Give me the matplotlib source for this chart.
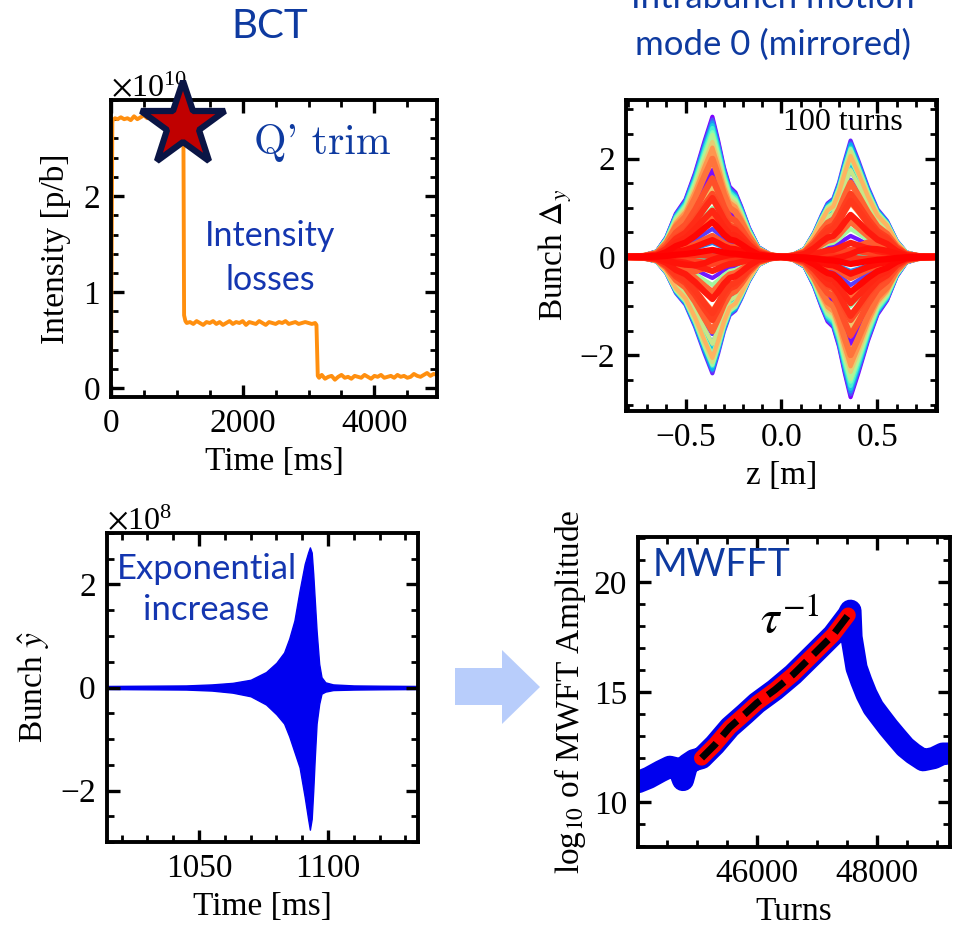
import numpy as np
import matplotlib
matplotlib.use('Agg')
import matplotlib.pyplot as plt
from matplotlib.patches import Polygon
from matplotlib.ticker import MultipleLocator, ScalarFormatter

plt.rcParams['font.family'] = ['Liberation Serif', 'DejaVu Serif']
plt.rcParams['mathtext.fontset'] = 'stix'
plt.rcParams['axes.linewidth'] = 2.8

TITLE_BLUE = '#0e3aa0'
TEXT_BLUE = '#1436b0'

# --- BCT intensity (units of 1e10 p/b) ---
bct_t = [0, 20,
         25, 60, 100, 150, 200, 250, 300, 350, 400, 450, 500, 550, 600, 650, 700,
         750, 800, 850, 900, 950, 1000, 1050, 1090,
         1100, 1110, 1130,
         1150, 1200, 1250, 1300, 1350, 1400, 1450, 1500, 1550, 1600, 1650, 1700,
         1750, 1800, 1850, 1900, 1950, 2000, 2050, 2100, 2150, 2200, 2250, 2300,
         2350, 2400, 2450, 2500, 2550, 2600, 2650, 2700, 2750, 2800, 2850, 2900,
         2950, 3000, 3050, 3100,
         3120, 3140,
         3160, 3200, 3250, 3300, 3350, 3400, 3450, 3500, 3550, 3600, 3650, 3700,
         3750, 3800, 3850, 3900, 3950, 4000, 4050, 4100, 4150, 4200, 4250, 4300,
         4350, 4400, 4450, 4500, 4550, 4600, 4650, 4700, 4750, 4800, 4850, 4900,
         4950, 5000]
bct_i = [0.10, 2.76,
         2.79, 2.81, 2.80, 2.82, 2.80, 2.81, 2.79, 2.83, 2.80, 2.82, 2.84, 2.81,
         2.83, 2.80, 2.78, 2.79, 2.77, 2.80, 2.79, 2.81, 2.80, 2.79, 2.80,
         2.60, 0.76, 0.70,
         0.68, 0.69, 0.67, 0.70, 0.68, 0.66, 0.69, 0.68, 0.70, 0.67, 0.69, 0.66,
         0.68, 0.70, 0.67, 0.69, 0.68, 0.70, 0.66, 0.69, 0.68, 0.67, 0.70, 0.68,
         0.66, 0.69, 0.68, 0.67, 0.69, 0.68, 0.70, 0.67, 0.68, 0.69, 0.67, 0.68,
         0.69, 0.68, 0.67, 0.68,
         0.66, 0.13,
         0.11, 0.14, 0.10, 0.12, 0.13, 0.09, 0.12, 0.14, 0.11, 0.12, 0.10, 0.13,
         0.12, 0.11, 0.14, 0.12, 0.10, 0.13, 0.12, 0.14, 0.11, 0.12, 0.13, 0.11,
         0.14, 0.12, 0.13, 0.11, 0.12, 0.15, 0.13, 0.12, 0.14, 0.16, 0.13, 0.15,
         0.14, 0.15]
trim_time = 1095
trim_level = 2.74

# --- intrabunch motion: left-lobe profile, mirrored onto z > 0 ---
lobe_z = [-0.81, -0.72, -0.65, -0.60, -0.55, -0.50, -0.45, -0.40, -0.36,
          -0.33, -0.30, -0.27, -0.24, -0.21, -0.17, -0.12, -0.06, 0.0]
lobe_main = [0.0, 0.01, 0.04, 0.14, 0.31, 0.41, 0.60, 0.83, 1.0,
             0.83, 0.64, 0.50, 0.46, 0.36, 0.21, 0.07, 0.02, 0.0]
lobe_shift = [0.0, 0.0, 0.03, 0.14, 0.26, 0.33, 0.35, 0.26, 0.12,
              0.04, -0.03, -0.08, -0.10, -0.09, -0.06, -0.03, -0.01, 0.0]
lobe_peak = 2.85
shift_peak = 2.4
# earlier turns (violet -> yellow), amplitude relative to lobe_peak
early_amp = [1.00, 0.62, -0.15, -0.83, -0.55, 0.20, 0.98, 0.70, -0.05, -0.81,
             -0.62, 0.10, 0.96, 0.78, 0.02, -0.80, -0.68, 0.05, 0.94, 0.83,
             0.12, -0.78, -0.72, -0.02, 0.92, 0.86, 0.25, -0.74, -0.76, -0.10,
             0.89, 0.88, 0.35, -0.70, -0.77, -0.20, 0.84, 0.87, 0.45, -0.62,
             -0.75, -0.30, 0.78, 0.82, 0.50, -0.52, -0.72, -0.38, 0.74, 0.78]
# latest turns (orange -> red)
late_amp = [0.70, 0.30, -0.25, -0.53, -0.35, 0.15, 0.56, 0.45, -0.05, -0.45,
            -0.40, 0.05, 0.42, 0.33, -0.10, -0.30, -0.20, 0.12, 0.25, 0.05]
late_shape = [0, 0, 0, 0, 1, 0, 0, 0, 0, 0,
              0, 1, 0, 0, 0, 0, 1, 0, 0, 0]

# --- bunch position around the instability (units of 1e8) ---
env_t = [1014, 1030, 1045, 1055, 1063, 1070, 1076, 1080, 1083, 1085, 1087,
         1089, 1091, 1092.3, 1093, 1093.7, 1094.3, 1094.9, 1095.6, 1096.6,
         1097.5, 1099, 1102, 1110, 1120, 1135]
env_top = [0.03, 0.035, 0.04, 0.06, 0.09, 0.15, 0.30, 0.48, 0.68, 0.95, 1.30,
           1.88, 2.40, 2.62, 2.72, 2.62, 2.20, 1.69, 1.10, 0.46,
           0.20, 0.10, 0.06, 0.04, 0.035, 0.03]
env_bot = [-0.03, -0.035, -0.04, -0.06, -0.10, -0.17, -0.33, -0.52, -0.70, -0.95,
           -1.25, -1.55, -2.13, -2.55, -2.76, -2.55, -2.00, -1.36, -0.70, -0.32,
           -0.12, -0.08, -0.05, -0.04, -0.035, -0.03]

# --- MWFFT amplitude vs turns ---
mw_turns = [44020, 44200, 44400, 44550, 44700, 44770, 44840, 44950, 45080,
            45300, 45550, 45800, 46000, 46300, 46605, 46940, 47272, 47522,
            47560, 47578, 47620, 47662, 47740, 47828, 47940, 48050, 48190,
            48328, 48470, 48605, 48772, 48950, 49100, 49220]
mw_amp = [10.9, 11.1, 11.4, 11.6, 11.5, 11.0, 11.7, 11.9, 12.0,
          12.6, 13.4, 14.0, 14.5, 15.1, 15.8, 16.7, 17.6, 18.5,
          18.7, 17.5, 16.8, 16.1, 15.5, 14.9, 14.3, 13.9, 13.4,
          12.95, 12.5, 12.2, 11.9, 12.0, 12.2, 12.2]
fit_turns = [45080, 45300, 45550, 45800, 46000, 46300, 46605, 46940, 47272, 47522]
fit_amp = [12.0, 12.6, 13.4, 14.0, 14.5, 15.1, 15.8, 16.7, 17.6, 18.5]


def style_axes(ax, xminor, yminor):
    ax.tick_params(which='both', direction='in', top=True, right=True,
                   labelsize=24, pad=8)
    ax.tick_params(which='major', length=9, width=2.4)
    ax.tick_params(which='minor', length=5, width=2.0)
    ax.xaxis.set_minor_locator(MultipleLocator(xminor))
    ax.yaxis.set_minor_locator(MultipleLocator(yminor))


fig = plt.figure(figsize=(9.61, 9.3), dpi=100)

# BCT panel
ax1 = fig.add_axes([0.1155, 0.5731, 0.3392, 0.3194])
ax1.plot(bct_t, np.array(bct_i) * 1e10, color='#ff8f0f', lw=2.8)
ax1.plot(trim_time, trim_level * 1e10, marker='*', ms=64, mfc='#c00000',
         mec='#0a1545', mew=4.5, clip_on=False, zorder=5)
ax1.set_xlim(0, 4950)
ax1.set_ylim(-0.09e10, 3.0e10)
ax1.set_xticks([0, 2000, 4000])
ax1.set_yticks([0, 1e10, 2e10])
ax1.yaxis.set_major_formatter(ScalarFormatter(useMathText=True))
ax1.yaxis.get_offset_text().set_fontsize(23)
style_axes(ax1, 500, 0.2e10)
ax1.set_xlabel('Time [ms]', fontsize=24, labelpad=6)
ax1.set_ylabel('Intensity [p/b]', fontsize=24, labelpad=8)
ax1.text(0.647, 0.855, "Q' trim", transform=ax1.transAxes, fontsize=30,
         family='cmr10', color=TITLE_BLUE, ha='center', va='center')
ax1.text(0.488, 0.468, 'Intensity\nlosses', transform=ax1.transAxes,
         fontsize=24.5, family='Lato', color=TEXT_BLUE, ha='center',
         va='center', linespacing=1.45)

# intrabunch motion panel
ax2 = fig.add_axes([0.6514, 0.5581, 0.3236, 0.3344])
z_full = np.concatenate([lobe_z, -np.array(lobe_z[::-1][1:])])
shapes = []
for lobe, peak in ((lobe_main, lobe_peak), (lobe_shift, shift_peak)):
    lobe = np.array(lobe) * peak
    shapes.append(np.concatenate([lobe, -lobe[::-1][1:]]))
early_colors = plt.cm.rainbow(np.linspace(0, 0.8, len(early_amp)))
late_colors = plt.cm.rainbow(np.linspace(0.85, 1.0, len(late_amp)))
for a, c in zip(early_amp, early_colors):
    ax2.plot(z_full, a * shapes[0], color=c, lw=3.0)
for a, s, c in zip(late_amp, late_shape, late_colors):
    ax2.plot(z_full, a * shapes[s], color=c, lw=4.5)
ax2.set_xlim(-0.81, 0.81)
ax2.set_ylim(-3.13, 3.19)
ax2.set_xticks([-0.5, 0.0, 0.5])
ax2.set_yticks([-2, 0, 2])
style_axes(ax2, 0.1, 0.5)
ax2.set_xlabel('z [m]', fontsize=24, labelpad=6)
ax2.set_ylabel(r'Bunch $\Delta_y$', fontsize=24, labelpad=4)
ax2.text(0.698, 0.926, '100 turns', transform=ax2.transAxes, fontsize=23,
         ha='center', va='center')

# bunch position panel
ax3 = fig.add_axes([0.1113, 0.0946, 0.3236, 0.3323])
ax3.fill_between(env_t, np.array(env_bot) * 1e8, np.array(env_top) * 1e8,
                 color='#0000f0', lw=1.0)
ax3.set_xlim(1014.3, 1134.9)
ax3.set_ylim(-3.0e8, 3.0e8)
ax3.set_xticks([1050, 1100])
ax3.set_yticks([-2e8, 0, 2e8])
ax3.yaxis.set_major_formatter(ScalarFormatter(useMathText=True))
ax3.yaxis.get_offset_text().set_fontsize(23)
style_axes(ax3, 10, 0.5e8)
ax3.set_xlabel('Time [ms]', fontsize=24, labelpad=6)
ax3.set_ylabel(r'Bunch $\hat{y}$', fontsize=24, labelpad=6)
ax3.text(0.32, 0.816, 'Exponential\nincrease', transform=ax3.transAxes,
         fontsize=25, family='Lato', color=TEXT_BLUE, ha='center',
         va='center', linespacing=1.35)

# MWFFT panel
ax4 = fig.add_axes([0.6639, 0.0892, 0.3247, 0.3333])
ax4.plot(mw_turns, mw_amp, color='#0000ee', lw=16, solid_capstyle='round',
         solid_joinstyle='round')
ax4.plot(fit_turns, fit_amp, color='#ff0000', lw=11, solid_capstyle='round',
         solid_joinstyle='round')
ax4.plot(fit_turns, fit_amp, color='black', lw=5, dashes=(3, 1.4))
ax4.set_xlim(44020, 49220)
ax4.set_ylim(7.95, 22.05)
ax4.set_xticks([46000, 48000])
ax4.set_yticks([10, 15, 20])
style_axes(ax4, 500, 1)
ax4.set_xlabel('Turns', fontsize=24, labelpad=6)
ax4.set_ylabel(r'log$_{10}$ of MWFT Amplitude', fontsize=24, labelpad=4)
ax4.text(0.048, 0.91, 'MWFFT', transform=ax4.transAxes, fontsize=27,
         family='Lato', color=TITLE_BLUE, ha='left', va='center')
ax4.text(46550, 18.26, r'$\tau^{-1}$', fontsize=34, ha='center', va='center')

# titles and the arrow between the lower panels
fig.text(270 / 961, 1 - 38 / 930, 'BCT', fontsize=29, family='Lato',
         color=TITLE_BLUE, ha='center', va='baseline')
fig.text(773 / 961, 1 - 8 / 930, 'Intrabunch motion', fontsize=25,
         family='Lato', color=TITLE_BLUE, ha='center', va='baseline')
fig.text(773 / 961, 1 - 55 / 930, 'mode 0 (mirrored)', fontsize=25,
         family='Lato', color=TITLE_BLUE, ha='center', va='baseline')

overlay = fig.add_axes([0, 0, 1, 1], zorder=-1)
overlay.set_xlim(0, 961)
overlay.set_ylim(930, 0)
overlay.axis('off')
overlay.add_patch(Polygon([(455, 668), (502, 668), (502, 650), (540, 687),
                           (502, 724), (502, 705), (455, 705)],
                          closed=True, color='#b8cdfb', lw=0))

fig.savefig('out.png', dpi=100)
